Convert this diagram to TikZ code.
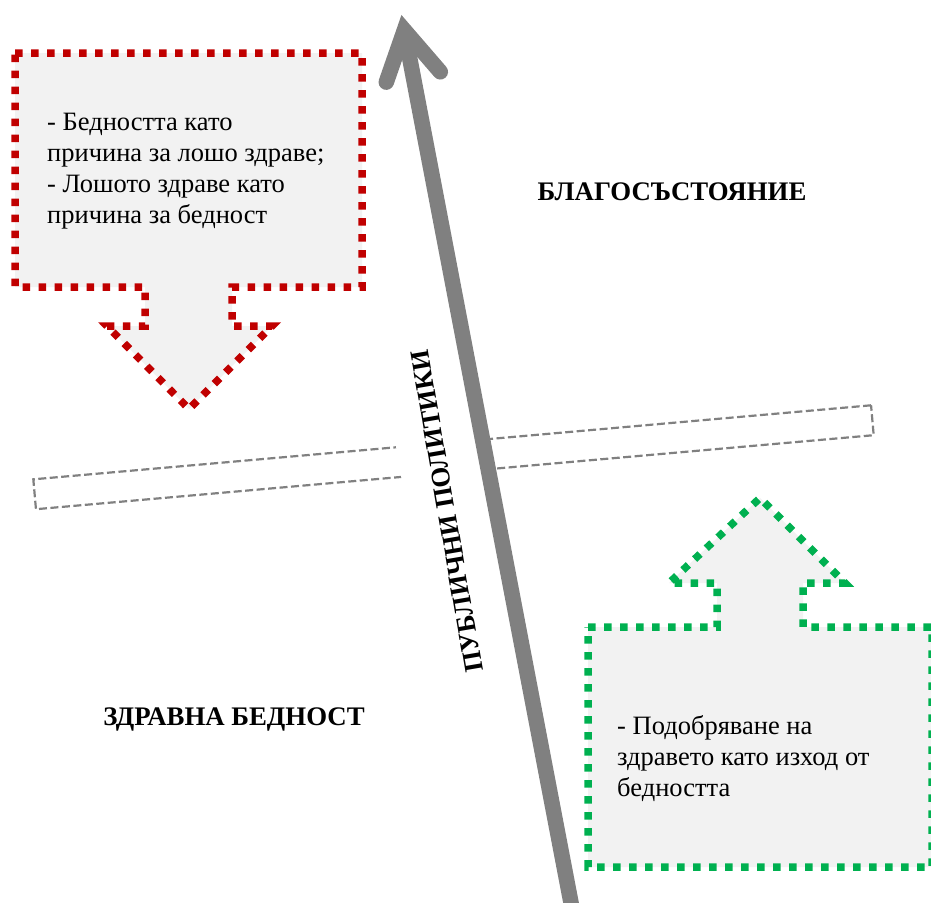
\documentclass[tikz,border=0pt]{standalone}
\usepackage{fontspec}
\setmainfont{Liberation Serif}
\usetikzlibrary{calc}
\definecolor{cred}{HTML}{C00000}
\definecolor{cgreen}{HTML}{00B050}
\definecolor{cfill}{HTML}{F2F2F2}
\definecolor{cgray}{HTML}{808080}
\begin{document}
\begin{tikzpicture}[x=1pt,y=-1pt,
  callout/.style={line width=7.5pt, dash pattern=on 7.5pt off 8.5pt, fill=cfill, line join=miter},
  bodytext/.style={font=\fontsize{26.5}{31}\selectfont, align=left, inner sep=0pt},
  biglabel/.style={font=\fontsize{26.8}{31}\selectfont\bfseries, inner sep=0pt},
  band/.style={draw=cgray, line width=2.2pt, dash pattern=on 8pt off 3.5pt, inner sep=0pt},
  policy/.style={line width=15.5pt, draw=cgray}
]
\useasboundingbox (0,0) rectangle (931,902);

% dashed band
\node[band, rotate=5.05, minimum width=841pt, minimum height=30pt] (band) at (453.5,457.25) {};

% red callout
\draw[callout, draw=cred] (15,53) -- (362,53) -- (362,287) -- (232,287) -- (232,326) -- (272,326)
  -- (189,409) -- (107,326) -- (145,326) -- (145,287) -- (15,287) -- cycle;
\node[bodytext, anchor=base west] (redtext) at (47,223)
  {- Бедността като\\причина за лошо здраве;\\- Лошото здраве като\\причина за бедност};

% green callout
\draw[callout, draw=cgreen] (588,627) -- (717,627) -- (717,583) -- (669,583) -- (760,498)
  -- (845,583) -- (803,583) -- (803,627) -- (932,627) -- (932,867) -- (588,867) -- cycle;
\node[bodytext, anchor=base west] (greentext) at (617,796)
  {- Подобряване на\\здравето като изход от\\бедността};

% region labels
\node[biglabel, anchor=base] (wealth) at (672,200) {БЛАГОСЪСТОЯНИЕ};
\node[biglabel, anchor=base] (poverty) at (234,725) {ЗДРАВНА БЕДНОСТ};

% policy label (white background interrupts the band)
\node[biglabel, rotate=99.7, fill=white, text height=48pt, text depth=38pt, anchor=base]
  (policytext) at (455.5,510) {ПУБЛИЧНИ ПОЛИТИКИ};

% policy arrow
\coordinate (pbottom) at (574.3,920);
\coordinate (ptip) at (404.35,30.2);
\draw[policy] (pbottom) -- (ptip);
\draw[policy, line cap=round, line join=miter]
  ($(ptip)!55pt!30:(pbottom)$) -- (ptip) -- ($(ptip)!55pt!-30:(pbottom)$);
\end{tikzpicture}
\end{document}
